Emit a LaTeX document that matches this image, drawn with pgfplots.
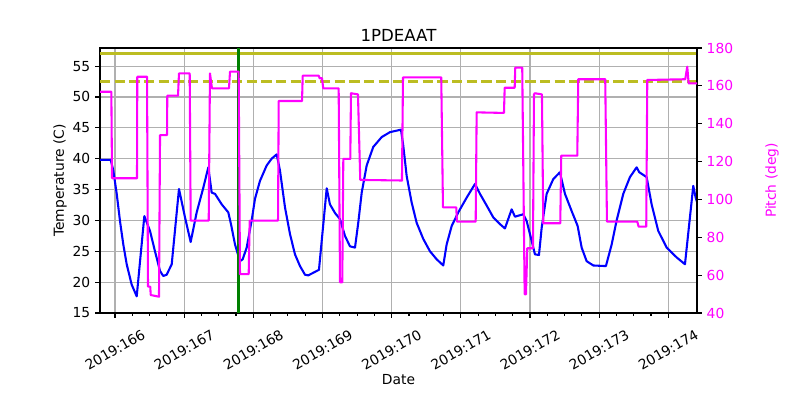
\documentclass[border=0pt]{standalone}
\usepackage{fontspec}
\setmainfont{DejaVu Sans}
\usepackage{pgfplots}
\pgfplotsset{compat=1.18}
\definecolor{olivec}{RGB}{188,189,34}
\definecolor{mpgreen}{RGB}{0,128,0}
\definecolor{mpblue}{RGB}{0,0,255}
\definecolor{mpmag}{RGB}{255,0,255}
\definecolor{gridgray}{RGB}{176,176,176}
\begin{document}
\begin{tikzpicture}
\pgfplotsset{
  every axis/.append style={
    scale only axis, width=5.97in, height=2.65in,
    xmin=165.783, xmax=174.415,
    /pgf/number format/assume math mode=true,
    tick label style={font=\fontsize{10}{12}\selectfont},
    label style={font=\fontsize{10}{12}\selectfont},
    axis line style={line width=0.8pt},
    major tick length=3.5pt, minor tick length=2pt,
    every tick/.style={black, line width=0.8pt},
    tick align=outside,
  }
}
\begin{axis}[name=main,
  ymin=15, ymax=57.93,
  xtick pos=bottom, ytick pos=left,
  xtick={166,167,168,169,170,171,172,173,174},
  xticklabels={2019:166,2019:167,2019:168,2019:169,2019:170,2019:171,2019:172,2019:173,2019:174},
  minor x tick num=3,
  ytick={15,20,25,30,35,40,45,50,55},
  grid=major, major grid style={gridgray, line width=0.8pt},
  xticklabel style={yshift=-0.32in, rotate=30, anchor=center},
  every axis title shift=0pt,
  title={1PDEAAT},
  title style={at={(axis description cs:0.5,1.049)}, anchor=center, font=\fontsize{12}{14}\selectfont},
  xlabel={Date},
  xlabel style={at={(axis description cs:0.5,-0.253)}, anchor=center},
  ylabel={Temperature (C)},
  ylabel style={at={(axis description cs:-0.067,0.5)}, anchor=center},
]
\addplot[olivec, line width=2pt] coordinates {(165.783,57) (174.415,57)};
\addplot[olivec, line width=2pt, dash pattern=on 7.4pt off 3.2pt] coordinates {(165.783,52.5) (174.415,52.5)};
\addplot[mpblue, line width=1.5pt, line join=round] coordinates {
(165.785,39.8) (165.938,39.8) (165.975,38.1) (166.025,34.3) (166.072,29.9) (166.120,26.1) (166.169,22.9)
(166.241,19.6) (166.314,17.7) (166.424,30.7) (166.506,28.3) (166.578,25.0) (166.651,21.8) (166.698,21.0)
(166.747,21.2) (166.820,22.9) (166.925,35.1) (167.012,30.5) (167.094,26.5) (167.181,31.3) (167.277,35.3)
(167.349,38.6) (167.398,34.5) (167.446,34.3) (167.543,32.6) (167.638,31.3) (167.677,29.4) (167.735,26.1)
(167.807,23.4) (167.846,23.7) (167.904,25.6) (167.976,30.0) (168.024,33.5) (168.096,36.4) (168.193,38.9)
(168.265,40.0) (168.338,40.7) (168.385,38.1) (168.458,32.1) (168.530,27.8) (168.602,24.5) (168.675,22.6)
(168.747,21.2) (168.795,21.1) (168.949,22.0) (169.061,35.2) (169.108,32.6) (169.181,31.2) (169.253,30.2)
(169.325,27.5) (169.397,25.8) (169.470,25.6) (169.517,29.6) (169.567,34.5) (169.639,38.9) (169.734,41.9)
(169.856,43.5) (169.976,44.3) (170.135,44.7) (170.168,42.1) (170.217,37.2) (170.289,32.9) (170.362,29.6)
(170.457,27.0) (170.554,25.0) (170.651,23.7) (170.746,22.7) (170.795,26.1) (170.868,29.1) (170.963,31.3)
(171.085,33.7) (171.205,35.9) (171.277,34.3) (171.374,32.4) (171.469,30.5) (171.566,29.4) (171.638,28.7)
(171.735,31.8) (171.783,30.6) (171.903,31.0) (171.952,29.9) (172.024,26.7) (172.072,24.5) (172.130,24.4)
(172.169,28.8) (172.241,34.3) (172.337,36.7) (172.433,37.8) (172.506,34.3) (172.603,31.5) (172.689,29.1)
(172.747,25.6) (172.819,23.4) (172.915,22.7) (173.098,22.6) (173.181,26.1) (173.253,30.0) (173.349,34.3)
(173.445,37.0) (173.542,38.6) (173.580,37.8) (173.648,37.3) (173.687,37.0) (173.759,32.6) (173.855,28.3)
(173.976,25.6) (174.121,24.0) (174.241,22.9) (174.361,35.6) (174.395,33.7) (174.415,33.0)
};
\addplot[mpgreen, line width=2.1pt] coordinates {(167.78,15) (167.78,57.93)};
\end{axis}
\begin{axis}[
  ymin=40, ymax=180,
  axis y line*=right, axis x line=none,
  ytick={40,60,80,100,120,140,160,180},
  yticklabel style={mpmag},
  ylabel={Pitch (deg)},
  ylabel style={mpmag, at={(axis description cs:1.1256,0.5)}, anchor=center},
]
\addplot[mpmag, line width=1.5pt, line join=round] coordinates {
(165.785,156.9) (165.947,156.9) (165.957,111.2) (166.318,111.2) (166.322,164.8) (166.463,164.8)
(166.477,53.9) (166.510,53.9) (166.516,49.5) (166.636,48.6) (166.651,134.0) (166.752,134.0)
(166.756,154.8) (166.911,154.8) (166.925,166.6) (167.080,166.6) (167.094,88.8) (167.355,88.8)
(167.373,166.6) (167.402,158.7) (167.648,158.7) (167.663,167.5) (167.788,167.5) (167.807,60.5)
(167.933,60.5) (167.947,88.8) (168.357,88.8) (168.367,152.0) (168.704,152.0) (168.714,165.4)
(168.945,165.4) (168.959,164.0) (168.993,164.0) (169.011,158.7) (169.234,158.7) (169.253,56.2)
(169.286,56.2) (169.301,121.4) (169.402,121.4) (169.412,156.1) (169.513,155.5) (169.546,110.3)
(170.149,110.0) (170.164,164.5) (170.717,164.5) (170.742,95.8) (170.934,95.8) (170.944,88.3)
(171.215,88.3) (171.229,146.0) (171.624,145.7) (171.634,159.0) (171.779,159.0) (171.787,169.6)
(171.888,169.6) (171.923,49.9) (171.942,49.9) (171.961,74.2) (172.043,74.2) (172.058,155.5)
(172.070,156.1) (172.173,155.5) (172.192,87.4) (172.438,87.4) (172.452,123.1) (172.684,123.1)
(172.698,163.5) (173.088,163.5) (173.113,88.3) (173.551,88.3) (173.571,85.6) (173.681,85.6)
(173.696,163.1) (174.245,163.5) (174.274,170.1) (174.294,161.3) (174.415,161.3)
};
\end{axis}
\pgfresetboundingbox
\path[use as bounding box] ([xshift=-1in,yshift=-0.87in]main.south west) rectangle ([xshift=1.03in,yshift=0.48in]main.north east);
\end{tikzpicture}
\end{document}
